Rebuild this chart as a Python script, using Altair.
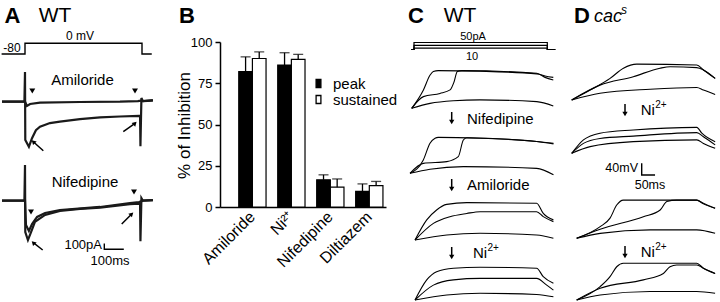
import altair as alt
import pandas as pd

FONT = "Liberation Sans"

# ---------------- Panel B data ----------------
drugs = ["Amiloride", "Ni²⁺", "Nifedipine", "Diltiazem"]
types = ["peak", "sustained"]
peak_mean = [82, 86, 16.5, 9.5]
peak_sem = [9, 7.5, 3, 4.5]
sust_mean = [90, 89.5, 12, 13]
sust_sem = [4, 3, 5, 2.5]
y_ticks = [0, 25, 50, 75, 100]

# ---------------- Panel A data (ms, mV / pA) ----------------
protoA_t = [-120, 0, 0, 600, 600, 650]
protoA_v = [-80, -80, 0, 0, -80, -80]

amil_ctrl_t = [-118, -3, 0, 1.5, 20, 36, 56, 77, 128, 179, 282, 385, 487, 585, 590, 592, 597, 605, 656]
amil_ctrl_i = [0, 0, 520, -670, -790, -640, -500, -440, -375, -350, -305, -275, -260, -250, -250, -780, 65, 10, 20]
amil_drug_t = [-118, 0, 10, 26, 77, 282, 487, 579, 595, 605, 656]
amil_drug_i = [0, 0, -75, -40, -15, -5, 0, 10, 20, 10, 30]

nif_ctrl_t = [-118, -3, 0, 1.5, 15, 31, 51, 103, 179, 282, 385, 538, 585, 590, 592, 597, 605, 656]
nif_ctrl_i = [0, 0, 625, -550, -690, -550, -370, -250, -180, -145, -120, -60, -50, -50, -710, 45, 0, 10]
nif_drug_t = [-118, 0, 5, 20, 36, 62, 103, 179, 385, 538, 585, 605, 656]
nif_drug_i = [0, 0, -425, -530, -410, -285, -215, -165, -110, -40, -25, 0, 10]

sbA_t = [0, 0, 100]
sbA_i = [100, 0, 0]

# ---------------- Panel C data (ms, pA / mV) ----------------
protoC_t = [-10, 0, 0, 500, 500, 530]
protoC_10 = [0, 0, 10, 10, 0, 0]
protoC_30 = [0, 0, 30, 30, 0, 0]
protoC_50 = [0, 0, 50, 50, 0, 0]

c1_top_t = [0, 44, 69, 81, 100, 256, 469, 500, 531]
c1_top_v = [0, 63, 114, 126, 129, 127, 118, 111, 106]
c1_mid_t = [0, 44, 106, 144, 159, 171, 188, 469, 500, 531]
c1_mid_v = [0, 40, 51, 63, 91, 126, 129, 120, 106, 97]
c1_bot_t = [0, 69, 156, 256, 469, 531]
c1_bot_v = [0, 17, 26, 29, 23, 8]

c2_top_t = [0, 50, 75, 94, 106, 263, 475, 538]
c2_top_v = [0, 46, 103, 120, 123, 120, 109, 101]
c2_mid_t = [0, 50, 138, 181, 200, 213, 475, 538]
c2_mid_v = [0, 34, 40, 57, 114, 122, 109, 103]
c2_bot_t = [0, 75, 200, 475, 538]
c2_bot_v = [0, 14, 23, 17, -5]

c3_top_t = [0, 44, 81, 119, 194, 456, 481, 519]
c3_top_v = [0, 69, 103, 122, 128, 126, 91, 69]
c3_mid_t = [0, 69, 131, 194, 244, 456, 481, 519]
c3_mid_v = [0, 57, 80, 91, 97, 97, 80, 63]
c3_bot_t = [0, 119, 244, 456, 519]
c3_bot_v = [0, 17, 23, 17, 6]

c4_top_t = [0, 44, 81, 144, 244, 456, 481, 519]
c4_top_v = [0, 69, 97, 109, 112, 109, 80, 57]
c4_mid_t = [0, 69, 144, 244, 456, 494, 519]
c4_mid_v = [0, 51, 69, 74, 74, 51, 34]
c4_bot_t = [0, 119, 244, 456, 519]
c4_bot_v = [0, 17, 23, 19, 11]

# ---------------- Panel D data (ms, mV) ----------------
d1_top_t = [0, 69, 144, 194, 244, 469, 494, 538]
d1_top_v = [0, 34, 74, 109, 123, 120, 103, 74]
d1_mid_t = [0, 106, 231, 331, 369, 469, 494, 538]
d1_mid_v = [0, 51, 80, 109, 114, 111, 103, 74]
d1_bot_t = [0, 106, 294, 469, 494, 538]
d1_bot_v = [0, 23, 37, 43, 34, 19]

d2_top_t = [0, 44, 106, 231, 469, 488, 538]
d2_top_v = [0, 46, 69, 80, 89, 69, 40]
d2_mid_t = [0, 44, 106, 231, 469, 494, 538]
d2_mid_v = [0, 34, 51, 59, 71, 57, 29]
d2_bot_t = [0, 69, 231, 469, 494, 538]
d2_bot_v = [0, 23, 40, 46, 34, 17]

d3_top_t = [0, 88, 125, 150, 175, 450, 475, 519]
d3_top_v = [0, 40, 69, 114, 131, 131, 120, 103]
d3_mid_t = [0, 88, 250, 313, 338, 375, 450, 475, 519]
d3_mid_v = [0, 31, 74, 97, 126, 131, 131, 118, 103]
d3_bot_t = [0, 88, 275, 450, 519]
d3_bot_v = [0, 17, 29, 29, 17]

d4_top_t = [0, 88, 125, 150, 175, 450, 475, 519]
d4_top_v = [0, 46, 80, 114, 126, 126, 109, 91]
d4_mid_t = [0, 88, 250, 325, 350, 375, 450, 475, 519]
d4_mid_v = [0, 40, 69, 91, 114, 120, 120, 109, 91]
d4_bot_t = [0, 88, 275, 450, 519]
d4_bot_v = [0, 17, 29, 29, 23]

sbD_t = [0, 0, 50]
sbD_v = [40, 0, 0]

# ---------------- helpers ----------------
DUMMY = pd.DataFrame({"a": [0]})


def lin(domain, rng):
    return alt.Scale(domain=domain, range=rng, nice=False, zero=False)


def trace_chart(series, xs, ys, width=1.1, interp="monotone", color="black"):
    rows = []
    for k, (ts, vs) in enumerate(series):
        for i, (t, v) in enumerate(zip(ts, vs)):
            rows.append({"trace": k, "i": i, "t": t, "v": v})
    return alt.Chart(pd.DataFrame(rows)).mark_line(
        color=color, strokeWidth=width, interpolate=interp
    ).encode(
        x=alt.X("t:Q", scale=xs, axis=None),
        y=alt.Y("v:Q", scale=ys, axis=None),
        detail="trace:N",
        order="i:Q",
    )


KT = 160.0 / 600.0   # px per ms in C/D
KV = 116.7 / 400.0   # px per mV in C/D


def group(series, x0, y0):
    return trace_chart(series, lin([0, 600], [x0, x0 + 600 * KT]),
                       lin([0, 400], [y0, y0 - 400 * KV]), width=1.1)


def txt(s, x, y, size=15, align="center", weight="normal", style="normal"):
    return alt.Chart(pd.DataFrame({"s": [s]})).mark_text(
        align=align, baseline="middle", fontSize=size, fontWeight=weight,
        fontStyle=style, font=FONT, color="black"
    ).encode(text="s:N", x=alt.value(x), y=alt.value(y))


def seg(x1, y1, x2, y2, w=1.4):
    return alt.Chart(DUMMY).mark_rule(color="black", strokeWidth=w).encode(
        x=alt.value(x1), y=alt.value(y1), x2=alt.value(x2), y2=alt.value(y2))


def tri(x, y, angle=0, size=30, shape="triangle-down"):
    return alt.Chart(DUMMY).mark_point(
        shape=shape, filled=True, color="black", size=size, angle=angle, opacity=1
    ).encode(x=alt.value(x), y=alt.value(y))


def down_arrow(x, y_top, y_tip):
    return [seg(x, y_top, x, y_tip - 3, 1.5), tri(x, y_tip - 2, 0, 28)]


def diag_arrow(tx, ty, hx, hy, angle):
    return [seg(tx, ty, hx, hy, 1.5), tri(hx, hy, angle, 26, "triangle-up")]


def ni_label(x, y):
    return [txt("Ni", x, y, 15, "left"), txt("2+", x + 14.5, y - 5, 10, "left")]


layers = []

# ---------------- Panel A ----------------
xA = lin([0, 600], [25, 142])
layers.append(trace_chart([(protoA_t, protoA_v)], xA, lin([-80, 0], [54, 43.3]), 1.4, "linear"))
layers.append(trace_chart([(amil_drug_t, amil_drug_i), (amil_ctrl_t, amil_ctrl_i)], xA,
                          lin([-800, 0], [147.3, 101.7]), 2.2, "linear", "#1a1a1a"))
layers.append(trace_chart([(nif_drug_t, nif_drug_i), (nif_ctrl_t, nif_ctrl_i)], xA,
                          lin([-800, 0], [246.3, 200.7]), 2.2, "linear", "#1a1a1a"))
layers.append(trace_chart([(sbA_t, sbA_i)], lin([0, 600], [104.3, 221.3]),
                          lin([0, 100], [249.3, 243.6]), 1.4, "linear"))
layers += [
    txt("A", 12.5, 16, 22, weight="bold"),
    txt("WT", 55, 16, 21),
    txt("-80", 12, 47.5, 12),
    txt("0 mV", 80, 35.5, 12),
    txt("Amiloride", 82.5, 80, 15),
    txt("Nifedipine", 85, 182, 15),
    txt("100pA", 102, 245, 13, "right"),
    txt("100ms", 110, 261, 13),
    tri(32.3, 91, 0, 35), tri(135, 91, 0, 35),
    tri(31, 212, 0, 35), tri(134, 192, 0, 35),
]
layers += diag_arrow(43.3, 150.7, 33.3, 141.7, 315)
layers += diag_arrow(123.3, 131.7, 135, 123.3, 45)
layers += diag_arrow(42.7, 250, 33.3, 242.7, 315)
layers += diag_arrow(121.7, 224, 131.7, 214, 45)

# ---------------- Panel B ----------------
dfB = pd.DataFrame({
    "drug": drugs + drugs,
    "type": ["peak"] * 4 + ["sustained"] * 4,
    "val": peak_mean + sust_mean,
    "sem": peak_sem + sust_sem,
})
xB = alt.Scale(domain=drugs, range=[220, 386], paddingInner=0.3, paddingOuter=0.28, align=0.86)
yB = alt.Scale(domain=[0, 100], range=[207, 42], nice=False, zero=True)
offB = alt.Scale(domain=types, paddingInner=0, paddingOuter=0)
xaxis = alt.Axis(orient="bottom", offset=-95, title=None, ticks=False, labelAngle=-45,
                 labelAlign="right", labelBaseline="middle", labelFontSize=16, labelPadding=7,
                 domainWidth=1.5, domainColor="black", labelColor="black", labelFont=FONT)
yaxis = alt.Axis(orient="left", offset=-220, title="% of Inhibition", values=y_ticks,
                 tickSize=5, tickWidth=1.5, tickColor="black", domainWidth=1.5,
                 domainColor="black", labelFontSize=13, labelPadding=3, titleFontSize=17,
                 titleFontWeight="normal", titleX=-36, titleY=125, titleAngle=270,
                 titleAlign="center", titleBaseline="middle", grid=False,
                 labelColor="black", titleColor="black", labelFont=FONT, titleFont=FONT)
legend = alt.Legend(orient="none", legendX=311, legendY=76, title=None,
                    symbolType="M-0.6,-1H0.6V1H-0.6Z", symbolSize=64,
                    symbolStrokeColor="black", symbolStrokeWidth=1.3,
                    labelFontSize=15, labelOffset=7, rowPadding=-3,
                    labelFont=FONT, labelColor="black", padding=0)

bars = alt.Chart(dfB).mark_bar(stroke="black", strokeWidth=1.2).encode(
    x=alt.X("drug:N", scale=xB, axis=xaxis),
    xOffset=alt.XOffset("type:N", scale=offB),
    y=alt.Y("val:Q", scale=yB, axis=yaxis),
    fill=alt.Fill("type:N", scale=alt.Scale(domain=types, range=["black", "white"]), legend=legend),
)
errs = alt.Chart(dfB).transform_calculate(top="datum.val + datum.sem").mark_rule(
    color="black", strokeWidth=1.3).encode(
    x=alt.X("drug:N", scale=xB, axis=xaxis),
    xOffset=alt.XOffset("type:N", scale=offB),
    y=alt.Y("val:Q", scale=yB, axis=yaxis),
    y2="top:Q",
)
caps = alt.Chart(dfB).transform_calculate(top="datum.val + datum.sem").mark_tick(
    color="black", thickness=1.3, size=10).encode(
    x=alt.X("drug:N", scale=xB, axis=xaxis),
    xOffset=alt.XOffset("type:N", scale=offB),
    y=alt.Y("top:Q", scale=yB, axis=yaxis),
)
layers.append(alt.layer(bars, errs, caps))
layers.append(txt("B", 187, 16, 22, weight="bold"))

# ---------------- Panel C ----------------
layers.append(trace_chart([(protoC_t, protoC_10), (protoC_t, protoC_30), (protoC_t, protoC_50)],
                          lin([0, 500], [414, 547.3]), lin([0, 50], [49.5, 42.5]), 1.2, "linear"))
layers.append(group([(c1_top_t, c1_top_v), (c1_mid_t, c1_mid_v), (c1_bot_t, c1_bot_v)], 411.7, 108.3))
layers.append(group([(c2_top_t, c2_top_v), (c2_mid_t, c2_mid_v), (c2_bot_t, c2_bot_v)], 410, 173.3))
layers.append(group([(c3_top_t, c3_top_v), (c3_mid_t, c3_mid_v), (c3_bot_t, c3_bot_v)], 415, 240))
layers.append(group([(c4_top_t, c4_top_v), (c4_mid_t, c4_mid_v), (c4_bot_t, c4_bot_v)], 415, 300))
layers += [
    txt("C", 416, 16, 22, weight="bold"),
    txt("WT", 460, 16, 21),
    txt("50pA", 473, 36.5, 11),
    txt("10", 472, 57, 11),
    txt("Nifedipine", 467, 118.5, 15, "left"),
    txt("Amiloride", 467, 184.5, 15, "left"),
]
layers += ni_label(473, 253)
layers += down_arrow(451.7, 112, 124)
layers += down_arrow(451.7, 179, 191)
layers += down_arrow(451.7, 247, 259)

# ---------------- Panel D ----------------
layers.append(group([(d1_top_t, d1_top_v), (d1_mid_t, d1_mid_v), (d1_bot_t, d1_bot_v)], 571.7, 100))
layers.append(group([(d2_top_t, d2_top_v), (d2_mid_t, d2_mid_v), (d2_bot_t, d2_bot_v)], 571.7, 153.3))
layers.append(group([(d3_top_t, d3_top_v), (d3_mid_t, d3_mid_v), (d3_bot_t, d3_bot_v)], 576.7, 238.3))
layers.append(group([(d4_top_t, d4_top_v), (d4_mid_t, d4_mid_v), (d4_bot_t, d4_bot_v)], 576.7, 300))
layers.append(trace_chart([(sbD_t, sbD_v)], lin([0, 600], [641.7, 641.7 + 600 * KT]),
                          lin([0, 400], [175, 175 - 400 * KV]), 1.4, "linear"))
layers += [
    txt("D", 582, 16, 22, weight="bold"),
    txt("cac", 594, 17, 18, "left", style="italic"),
    txt("s", 621, 10, 12, "left", style="italic"),
    txt("40mV", 638, 167.5, 12.5, "right"),
    txt("50ms", 650, 185, 12.5),
]
layers += ni_label(640.7, 110)
layers += ni_label(640.7, 252)
layers += down_arrow(625, 104, 116)
layers += down_arrow(625, 246, 258)

chart = alt.layer(*layers).resolve_scale(
    x="independent", y="independent"
).properties(
    width=720, height=302, padding=0,
    autosize=alt.AutoSizeParams(type="none"), background="white",
).configure_view(stroke=None)

chart.save("out.html", embed_options={"renderer": "svg", "actions": False})
